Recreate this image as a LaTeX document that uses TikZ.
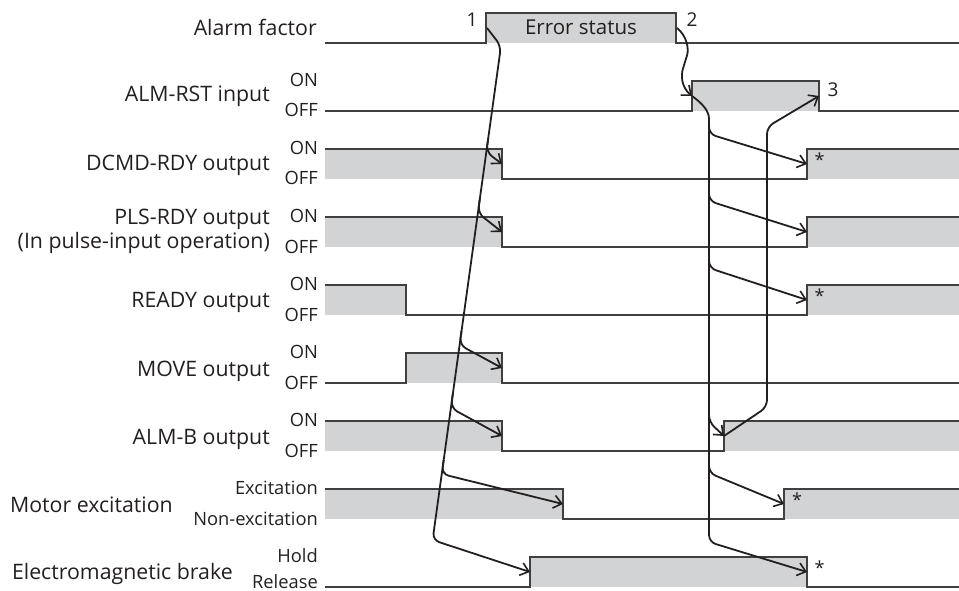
\documentclass[tikz,border=0pt]{standalone}
\usepackage{fontspec}
\setmainfont{Open Sans}
\usetikzlibrary{arrows.meta}
\definecolor{ink}{HTML}{231F20}
\definecolor{sigc}{HTML}{404041}
\definecolor{hifill}{HTML}{D1D3D4}
\begin{document}
\begin{tikzpicture}[x=1pt,y=-1pt,
 sig/.style={draw=sigc,line width=1.3pt,line join=miter},
 arr/.style={draw=ink,line width=1.8pt,rounded corners=7pt,-{Straight Barb[length=8pt,width=13pt,line width=1.6pt]}},
 lab/.style={anchor=base east,text=ink,font=\fontsize{21.3}{24}\selectfont,inner sep=0pt},
 lvl/.style={anchor=base east,text=ink,font=\fontsize{18.3}{21}\selectfont,inner sep=0pt},
 num/.style={anchor=base,text=ink,font=\fontsize{19}{22}\selectfont,inner sep=0pt},
 ast/.style={text=ink,font=\fontsize{18}{20}\selectfont,inner sep=0pt}]
\useasboundingbox (0,0) rectangle (959,591);

% ---------- gray fills (high levels) ----------
\fill[hifill] (486,13) rectangle (676,43);
\fill[hifill] (692,81) rectangle (819,111);
\fill[hifill] (325,149) rectangle (502,179);
\fill[hifill] (807,149) rectangle (959,179);
\fill[hifill] (325,217) rectangle (502,247);
\fill[hifill] (807,217) rectangle (959,247);
\fill[hifill] (325,285) rectangle (406,315);
\fill[hifill] (807,285) rectangle (959,315);
\fill[hifill] (406,353) rectangle (502,383);
\fill[hifill] (325,421) rectangle (502,451);
\fill[hifill] (724,421) rectangle (959,451);
\fill[hifill] (325,489) rectangle (563,519);
\fill[hifill] (784,489) rectangle (959,519);
\fill[hifill] (530,557) rectangle (807,587);

% ---------- signal lines ----------
\draw[sig] (325,43) -- (486,43) -- (486,13) -- (676,13) -- (676,43) -- (959,43);
\draw[sig] (325,111) -- (692,111) -- (692,81) -- (819,81) -- (819,111) -- (959,111);
\draw[sig] (325,149) -- (502,149) -- (502,179) -- (807,179) -- (807,149) -- (959,149);
\draw[sig] (325,217) -- (502,217) -- (502,247) -- (807,247) -- (807,217) -- (959,217);
\draw[sig] (325,285) -- (406,285) -- (406,315) -- (807,315) -- (807,285) -- (959,285);
\draw[sig] (325,383) -- (406,383) -- (406,353) -- (502,353) -- (502,383) -- (959,383);
\draw[sig] (325,421) -- (502,421) -- (502,451) -- (724,451) -- (724,421) -- (959,421);
\draw[sig] (325,489) -- (563,489) -- (563,519) -- (784,519) -- (784,489) -- (959,489);
\draw[sig] (325,587) -- (530,587) -- (530,557) -- (807,557) -- (807,587) -- (959,587);

% ---------- signal names ----------
\node[lab] (nAlarm) at (317,36) {Alarm factor};
\node[lab] (nRst) at (270,102) {ALM-RST input};
\node[lab] (nDcmd) at (270,171) {DCMD-RDY output};
\node[lab] (nPls) at (270,224) {PLS-RDY output};
\node[lab] (nPls2) at (270,248) {(In pulse-input operation)};
\node[lab] (nReady) at (270,307) {READY output};
\node[lab] (nMove) at (270,376) {MOVE output};
\node[lab] (nAlmb) at (270,444) {ALM-B output};
\node[lab] (nMot) at (173,512) {Motor excitation};
\node[lab] (nBrk) at (233,579) {Electromagnetic brake};

% ---------- level names ----------
\node[lvl] (l2a) at (318,86.5) {ON};
\node[lvl] (l2b) at (318,117) {OFF};
\node[lvl] (l3a) at (318,154.5) {ON};
\node[lvl] (l3b) at (318,185) {OFF};
\node[lvl] (l4a) at (318,222.5) {ON};
\node[lvl] (l4b) at (318,253) {OFF};
\node[lvl] (l5a) at (318,290.5) {ON};
\node[lvl] (l5b) at (318,321) {OFF};
\node[lvl] (l6a) at (318,358.5) {ON};
\node[lvl] (l6b) at (318,389) {OFF};
\node[lvl] (l7a) at (318,426.5) {ON};
\node[lvl] (l7b) at (318,457) {OFF};
\node[lvl] (l8a) at (318,494.5) {Excitation};
\node[lvl] (l8b) at (318,525) {Non-excitation};
\node[lvl] (l9a) at (318,562.5) {Hold};
\node[lvl] (l9b) at (318,588.5) {Release};

% ---------- texts on the chart ----------
\node[anchor=base,text=ink,font=\fontsize{20.5}{23}\selectfont,inner sep=0pt] (err) at (581,35) {Error status};
\node[num] (n1) at (472,27) {1};
\node[num] (n2) at (692,27) {2};
\node[num] (n3) at (833,97) {3};
\node[ast] (s1) at (819.5,160) {*};
\node[ast] (s2) at (819.5,296) {*};
\node[ast] (s3) at (797,500) {*};
\node[ast] (s4) at (819.5,568) {*};

% ---------- edge points ----------
\coordinate (a1s) at (487,28);
\coordinate (a1t) at (501,46);
\coordinate (a1b) at (432.6,540);
\coordinate (dcF) at (502,164);
\coordinate (plF) at (502,232);
\coordinate (mvF) at (502,368);
\coordinate (abF) at (502,436);
\coordinate (meF) at (563,504);
\coordinate (brR) at (530,572);
\coordinate (a2s) at (677,28);
\coordinate (rstR) at (692,96);
\coordinate (rstF) at (819,96);
\coordinate (dcR) at (807,164);
\coordinate (plR) at (807,232);
\coordinate (rdR) at (807,300);
\coordinate (abR) at (724,436);
\coordinate (meR) at (784,504);
\coordinate (brF) at (807,572);

% ---------- arrows from alarm occurrence (1) ----------
\draw[arr] (a1s) -- (a1t) -- (a1b) -- (brR);
\draw[arr] (488.3,138) -- (486.3,152) -- (dcF);
\draw[arr] (479.8,199) -- (477.9,213) -- (plF);
\draw[arr] (461.5,331) -- (459.6,345) -- (mvF);
\draw[arr] (452.8,394) -- (450.9,408) -- (abF);
\draw[arr] (443.7,460) -- (441.7,474) -- (meF);

% ---------- arrows from alarm removal (2) ----------
\draw[arr] (a2s) .. controls (687,36) and (689,49) .. (685,62) .. controls (681,75) and (681,87) .. (rstR);
\draw[arr] (rstR) .. controls (703,104) and (709,111) .. (709,126) -- (709,542) -- (brF);
\draw[arr] (709,120) -- (709,134) -- (dcR);
\draw[arr] (709,188) -- (709,201) -- (plR);
\draw[arr] (709,255) -- (709,268) -- (rdR);
\draw[arr] (709,408) -- (709,422) -- (abR);
\draw[arr] (709,460) -- (709,473) -- (meR);

% ---------- arrow to reset release (3) ----------
\draw[arr] (abR) -- (767,407) -- (767,127) -- (rstF);
\end{tikzpicture}
\end{document}
